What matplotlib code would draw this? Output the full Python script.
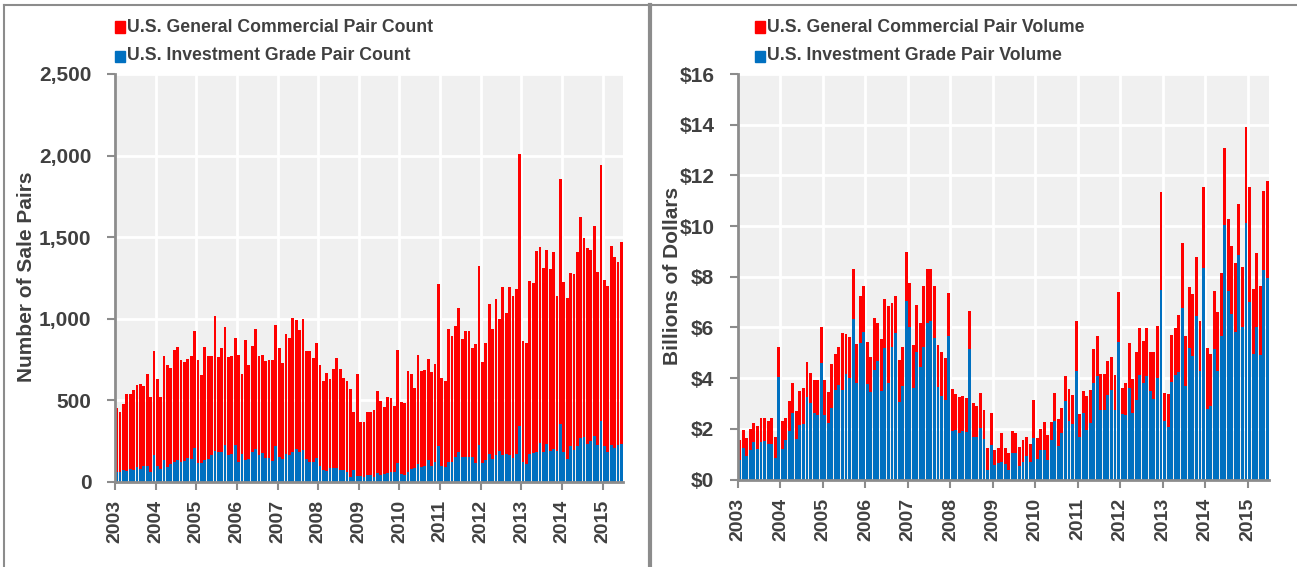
import numpy as np
import matplotlib
matplotlib.use("Agg")
import matplotlib.pyplot as plt
from matplotlib.patches import Rectangle
from matplotlib.lines import Line2D
from matplotlib.ticker import FuncFormatter

plt.rcParams['font.family'] = ['Liberation Sans', 'DejaVu Sans']

# ---- data (monthly, Jan 2003 - Jun 2015) ----
years = [str(y) for y in range(2003, 2016)]

count_general = [
    450, 425, 477, 538, 538, 562, 589, 599, 583, 660, 517, 800,
    626, 521, 771, 712, 697, 808, 824, 748, 736, 753, 769, 922,
    744, 654, 824, 769, 769, 1014, 761, 816, 949, 761, 773, 883,
    779, 658, 869, 714, 830, 937, 767, 777, 742, 748, 744, 961,
    820, 728, 904, 879, 1006, 988, 930, 1000, 798, 802, 757, 847,
    714, 618, 665, 630, 691, 757, 691, 634, 614, 569, 425, 660,
    368, 364, 429, 425, 436, 554, 495, 460, 521, 511, 466, 804,
    487, 483, 675, 661, 575, 779, 675, 685, 753, 671, 722, 1213,
    634, 616, 933, 890, 951, 1063, 875, 924, 924, 820, 845, 1321,
    732, 849, 1090, 933, 1121, 998, 1196, 1035, 1192, 1137, 1182, 2010,
    861, 847, 1227, 1219, 1413, 1438, 1311, 1421, 1303, 1409, 1141, 1853,
    1223, 1127, 1280, 1274, 1411, 1622, 1493, 1434, 1423, 1567, 1284, 1939,
    1237, 1200, 1444, 1380, 1348, 1470,
]
count_ig = [
    57, 61, 72, 67, 76, 72, 92, 76, 98, 98, 61, 160,
    94, 74, 133, 92, 108, 119, 129, 119, 125, 145, 139, 204,
    115, 115, 129, 139, 160, 190, 180, 180, 225, 160, 170, 221,
    119, 170, 129, 139, 180, 200, 164, 174, 143, 143, 123, 215,
    153, 135, 170, 160, 180, 200, 180, 194, 135, 119, 119, 143,
    98, 72, 67, 82, 82, 82, 72, 72, 57, 27, 72, 33,
    31, 27, 37, 41, 27, 55, 37, 47, 53, 59, 57, 112,
    47, 37, 61, 74, 84, 110, 88, 94, 131, 94, 121, 217,
    98, 88, 119, 119, 149, 180, 149, 149, 149, 149, 112, 221,
    112, 133, 170, 135, 164, 186, 160, 170, 160, 145, 166, 339,
    119, 110, 168, 174, 184, 237, 180, 231, 186, 200, 190, 354,
    180, 135, 217, 194, 217, 266, 272, 227, 247, 282, 221, 374,
    217, 180, 221, 207, 221, 231,
]
volume_general = [
    1.55, 1.95, 1.64, 2.01, 2.21, 2.12, 2.41, 2.41, 2.30, 2.41, 1.68, 5.24,
    2.30, 2.43, 3.11, 3.79, 2.71, 3.50, 3.62, 4.62, 4.21, 3.92, 3.92, 6.03,
    3.92, 3.46, 4.54, 4.97, 5.21, 5.79, 5.76, 5.63, 8.30, 5.34, 7.24, 7.63,
    5.41, 4.84, 6.39, 6.16, 5.54, 7.12, 6.84, 6.95, 7.25, 4.71, 5.24, 8.99,
    7.74, 5.30, 6.88, 6.18, 7.63, 8.30, 8.30, 7.64, 5.30, 5.04, 4.80, 7.34,
    3.57, 3.37, 3.26, 3.30, 3.20, 6.64, 3.03, 2.91, 3.42, 2.74, 1.26, 2.61,
    1.18, 1.26, 1.82, 1.25, 1.05, 1.92, 1.84, 1.29, 1.55, 1.68, 1.42, 3.13,
    1.62, 2.01, 2.28, 1.75, 2.28, 3.43, 2.37, 2.83, 4.09, 3.57, 3.33, 6.25,
    2.58, 3.50, 3.29, 3.55, 5.14, 5.66, 4.16, 4.16, 4.68, 4.84, 4.12, 7.38,
    3.63, 3.82, 5.37, 3.96, 5.04, 5.96, 5.46, 5.96, 5.04, 5.04, 6.07, 11.33,
    3.43, 3.36, 5.72, 5.96, 6.51, 9.34, 5.67, 7.61, 7.30, 8.76, 6.26, 11.55,
    5.20, 4.95, 7.43, 6.59, 8.13, 13.07, 10.28, 9.22, 8.55, 10.87, 8.37, 13.89,
    11.53, 7.50, 8.95, 7.64, 11.39, 11.79,
]
volume_ig = [
    0.76, 1.26, 0.93, 1.18, 1.46, 1.22, 1.49, 1.51, 1.42, 1.42, 0.83, 4.05,
    1.20, 1.55, 1.92, 2.64, 1.58, 2.14, 2.18, 3.24, 3.00, 2.63, 2.54, 4.61,
    2.54, 2.21, 2.83, 3.53, 3.72, 3.55, 4.16, 4.01, 6.32, 3.79, 5.37, 5.83,
    3.76, 3.46, 4.34, 4.67, 3.50, 5.17, 3.79, 5.24, 5.79, 3.04, 3.70, 7.04,
    6.03, 3.62, 5.04, 4.42, 5.21, 6.16, 6.25, 5.59, 3.66, 3.29, 3.13, 5.67,
    1.91, 1.97, 1.82, 1.91, 1.88, 5.14, 1.68, 1.68, 2.05, 1.58, 0.39, 1.36,
    0.57, 0.66, 0.70, 0.63, 0.37, 1.05, 1.03, 0.53, 0.70, 0.92, 0.70, 1.64,
    0.80, 1.18, 1.18, 0.76, 1.55, 2.32, 1.32, 1.84, 3.08, 2.32, 2.18, 4.29,
    1.66, 2.63, 1.97, 2.24, 3.82, 4.08, 2.76, 2.76, 3.33, 3.55, 2.76, 5.43,
    2.57, 2.54, 3.63, 2.64, 3.13, 4.12, 3.82, 4.08, 3.50, 3.16, 4.01, 7.47,
    2.30, 2.08, 3.86, 4.12, 4.25, 6.75, 3.68, 5.20, 4.88, 6.46, 4.29, 8.33,
    2.80, 2.91, 5.13, 4.29, 5.67, 10.04, 7.45, 6.53, 5.83, 8.87, 6.03, 10.13,
    6.99, 4.95, 6.03, 4.91, 8.26, 7.97,
]

RED = '#FF0000'
BLUE = '#0070C0'
TXT = '#404040'
SPINE = '#8C8C8C'

W, H = 1297, 567
fig = plt.figure(figsize=(W / 100, H / 100), dpi=100)


def px_axes(l, t, r, b):
    return fig.add_axes([l / W, 1 - b / H, (r - l) / W, (b - t) / H])


def style(ax, ymax, ystep, fmt):
    n = len(count_general)
    ax.set_facecolor('#F0F0F0')
    ax.set_xlim(0, n)
    ax.set_ylim(0, ymax)
    ax.set_yticks(np.arange(0, ymax + ystep / 2, ystep))
    ax.yaxis.set_major_formatter(FuncFormatter(fmt))
    ax.set_xticks(np.arange(0, n, 12))
    ax.set_xticklabels(years, rotation=90, fontsize=14, fontweight='bold', color=TXT)
    for lab in ax.get_yticklabels():
        lab.set_fontsize(15)
        lab.set_fontweight('bold')
        lab.set_color(TXT)
    ax.tick_params(axis='y', length=6, width=1.5, color=SPINE, pad=11)
    ax.tick_params(axis='x', length=6, width=1.5, color=SPINE, pad=7)
    ax.grid(True, color='white', lw=2)
    ax.set_axisbelow(True)
    for s in ('top', 'right'):
        ax.spines[s].set_visible(False)
    for s in ('left', 'bottom'):
        ax.spines[s].set_color(SPINE)
        ax.spines[s].set_linewidth(2)
        ax.spines[s].set_zorder(5)


x = np.arange(len(count_general)) + 0.5

ax1 = px_axes(115, 74, 623, 481.5)
ax1.bar(x, count_general, width=0.82, color=RED, linewidth=0, zorder=2)
ax1.bar(x, count_ig, width=0.82, color=BLUE, linewidth=0, zorder=3)
style(ax1, 2500, 500, lambda v, p: f'{int(v):,}')

ax2 = px_axes(738, 74, 1269, 479.5)
ax2.bar(x, volume_general, width=0.82, color=RED, linewidth=0, zorder=2)
ax2.bar(x, volume_ig, width=0.82, color=BLUE, linewidth=0, zorder=3)
style(ax2, 16, 2, lambda v, p: f'${int(v)}')

# axis titles
fig.text(27 / W, 1 - 277 / H, 'Number of Sale Pairs', rotation=90, ha='center', va='center',
         fontsize=15, fontweight='bold', color=TXT)
fig.text(672 / W, 1 - 276 / H, 'Billions of Dollars', rotation=90, ha='center', va='center',
         fontsize=15, fontweight='bold', color=TXT)

# legends (manual)
def legend_item(xpx, ypx, color, label):
    fig.patches.append(Rectangle((xpx / W, 1 - (ypx + 5.5) / H), 10 / W, 11 / H,
                                 transform=fig.transFigure, color=color, figure=fig))
    fig.text((xpx + 12) / W, 1 - ypx / H, label, ha='left', va='center',
             fontsize=12.7, fontweight='bold', color=TXT)

legend_item(115, 27, RED, 'U.S. General Commercial Pair Count')
legend_item(115, 56, BLUE, 'U.S. Investment Grade Pair Count')
legend_item(755, 27, RED, 'U.S. General Commercial Pair Volume')
legend_item(755, 56, BLUE, 'U.S. Investment Grade Pair Volume')

# frame lines
fig.add_artist(Line2D([4 / W, 1], [1 - 5 / H, 1 - 5 / H], transform=fig.transFigure, color='#8C8C8C', lw=1.5))
fig.add_artist(Line2D([4 / W, 4 / W], [0, 1 - 5 / H], transform=fig.transFigure, color='#8C8C8C', lw=1.5))
fig.add_artist(Line2D([650 / W, 650 / W], [0, 1 - 5 / H], transform=fig.transFigure, color='#8C8C8C', lw=3))

fig.savefig('out.png', dpi=100, facecolor='white')
